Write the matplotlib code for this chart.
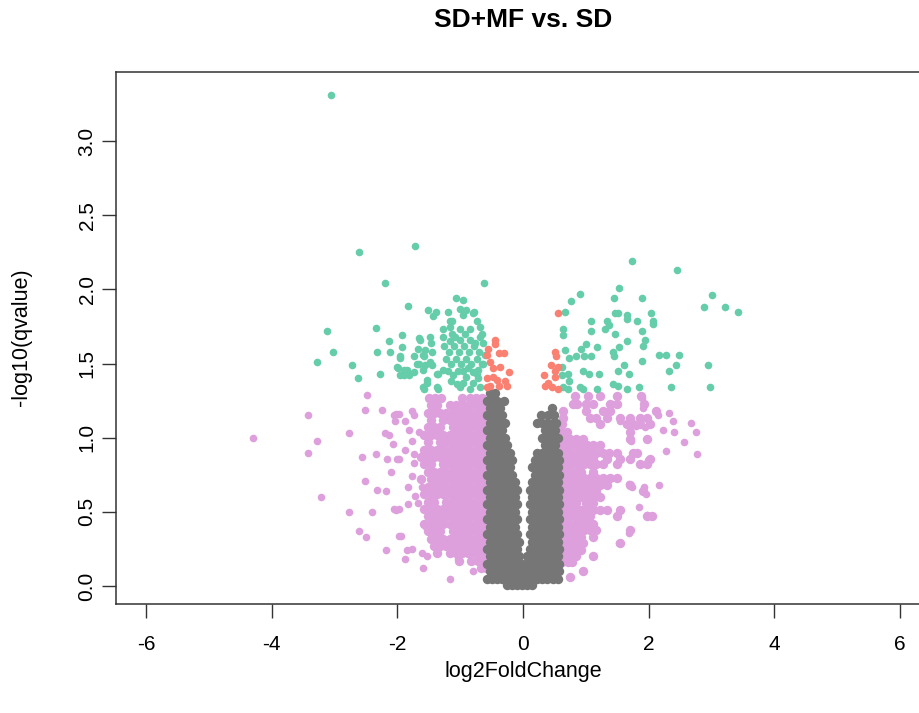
import matplotlib
matplotlib.use('Agg')
import matplotlib.pyplot as plt

plt.rcParams['font.family'] = ['Liberation Sans', 'DejaVu Sans']
plt.rcParams['axes.unicode_minus'] = False

# 1. Values (log2FoldChange, -log10(qvalue))
# significant, |log2FC| large  -> green
green_pts = [
    (-3.05, 3.31), (-2.61, 2.25), (-1.72, 2.29), (-2.19, 2.04), (-0.62, 2.04), (-1.83, 1.89),
    (-1.07, 1.94), (-0.96, 1.93), (-1.52, 1.86), (-1.39, 1.85), (-1.43, 1.82),
    (-1.19, 1.85), (-1.00, 1.87), (-0.90, 1.86), (-0.78, 1.85), (-0.95, 1.83),
    (-3.12, 1.72), (-3.03, 1.58), (-3.28, 1.51), (-2.34, 1.74), (-2.72, 1.49), (-2.63, 1.40),
    (-2.27, 1.43), (-2.32, 1.58), (-2.14, 1.65), (-2.11, 1.58), (-1.92, 1.69), (-1.92, 1.61),
    (-1.96, 1.55), (-1.65, 1.67), (-1.74, 1.55), (-1.67, 1.60), (-1.99, 1.47), (-1.90, 1.46),
    (-1.90, 1.42), (-1.82, 1.42), (-1.74, 1.44), (-1.56, 1.59), (-1.45, 1.58), (-1.57, 1.55),
    (-1.65, 1.50), (-1.56, 1.49), (-1.45, 1.49), (-1.48, 1.68), (-1.46, 1.64), (-1.27, 1.73),
    (-1.16, 1.79), (-1.27, 1.68), (-1.16, 1.65), (-1.00, 1.73), (-0.84, 1.73), (-0.74, 1.79),
    (-0.68, 1.75), (-0.66, 1.70), (-1.35, 1.43), (-1.27, 1.46), (-1.37, 1.34), (-1.53, 1.37),
    (-1.58, 1.33), (-0.95, 1.37), (-0.84, 1.33), (-0.68, 1.34), (-0.90, 1.41), (-0.74, 1.43),
    (-0.71, 1.46), (-0.60, 1.56), (-0.66, 1.50), (-1.13, 1.79), (-1.16, 1.75), (-1.13, 1.70),
    (-0.79, 1.84), (-0.63, 1.64), (-0.68, 1.68), (-1.64, 1.66), (-1.96, 1.54), (-1.59, 1.56),
    (-1.69, 1.50), (-1.48, 1.51), (-2.01, 1.48), (-1.85, 1.46), (-1.59, 1.46), (-1.37, 1.43),
    (-1.53, 1.39), (-1.59, 1.34), (-1.35, 1.33), (-1.96, 1.42), (-1.00, 1.34), (-0.63, 1.50),
    (-1.25, 1.62), (-1.18, 1.58), (-1.10, 1.62), (-1.02, 1.58), (-0.94, 1.62), (-0.86, 1.58),
    (-0.78, 1.62), (-0.70, 1.58), (-1.22, 1.53), (-1.14, 1.50), (-1.06, 1.53), (-0.98, 1.50),
    (-0.90, 1.53), (-0.82, 1.50), (-0.74, 1.53), (-1.20, 1.45), (-1.12, 1.42), (-1.04, 1.45),
    (-0.96, 1.45), (-0.88, 1.47), (-0.80, 1.44), (-0.72, 1.40), (-1.08, 1.68), (-1.00, 1.66),
    (-0.92, 1.70), (-0.84, 1.66), (-0.76, 1.64), (-1.15, 1.38), (-1.05, 1.36), (-0.80, 1.37),
    (1.74, 2.19), (2.45, 2.13), (0.91, 1.97), (0.77, 1.92), (1.53, 2.01), (1.45, 1.94),
    (1.89, 1.94), (0.67, 1.85), (3.01, 1.96), (2.88, 1.88), (3.21, 1.88), (3.43, 1.85),
    (1.09, 1.79), (1.34, 1.79), (1.37, 1.76), (1.31, 1.73), (1.09, 1.72), (1.47, 1.84),
    (1.52, 1.84), (1.66, 1.83), (1.65, 1.80), (1.81, 1.79), (2.03, 1.84), (2.07, 1.79),
    (2.07, 1.77), (0.64, 1.73), (0.64, 1.69), (1.47, 1.70), (1.89, 1.72), (1.94, 1.66),
    (1.91, 1.62), (1.65, 1.65), (1.53, 1.61), (1.18, 1.61), (1.00, 1.63), (0.93, 1.60),
    (0.67, 1.59), (0.74, 1.54), (0.85, 1.55), (0.97, 1.55), (1.09, 1.55), (1.43, 1.58),
    (1.45, 1.55), (2.16, 1.56), (2.27, 1.56), (2.48, 1.56), (1.89, 1.52), (1.61, 1.49),
    (1.52, 1.45), (1.69, 1.43), (1.21, 1.43), (0.96, 1.45), (1.05, 1.43), (2.43, 1.49),
    (2.32, 1.45), (2.95, 1.49), (0.62, 1.48), (0.62, 1.42), (0.72, 1.43), (0.74, 1.38),
    (0.64, 1.34), (0.72, 1.33), (0.91, 1.34), (0.96, 1.33), (1.18, 1.33), (1.43, 1.36),
    (1.52, 1.35), (1.65, 1.33), (1.85, 1.34), (2.36, 1.34), (2.98, 1.34),
]

# significant, |log2FC| small -> salmon
red_pts = [
    (-0.45, 1.66), (-0.45, 1.63), (-0.55, 1.60), (-0.58, 1.56), (-0.39, 1.57), (-0.31, 1.57),
    (-0.52, 1.51), (-0.47, 1.47), (-0.37, 1.48), (-0.23, 1.44), (-0.58, 1.40), (-0.47, 1.41),
    (-0.42, 1.39), (-0.29, 1.38), (-0.52, 1.35), (-0.39, 1.35), (-0.26, 1.35), (-0.58, 1.34),
    (0.55, 1.84), (0.51, 1.58), (0.53, 1.55), (0.45, 1.49), (0.56, 1.48), (0.51, 1.45),
    (0.33, 1.42), (0.51, 1.41), (0.40, 1.37), (0.35, 1.35), (0.46, 1.34), (0.56, 1.33),
]

# not significant, |log2FC| large -> plum (scattered outer points)
pink_pts = [
    (-4.30, 1.00), (-3.43, 1.15), (-3.28, 0.98), (-3.43, 0.90), (-3.21, 0.60), (-2.77, 1.03),
    (-2.48, 1.29), (-2.52, 1.19), (-2.25, 1.19), (-2.56, 0.87), (-2.34, 0.89), (-2.52, 0.71),
    (-2.33, 0.65), (-2.18, 0.64), (-2.77, 0.50), (-2.41, 0.50), (-2.61, 0.37), (-2.50, 0.33),
    (-2.18, 0.24), (-2.19, 1.03), (-2.14, 1.02), (-2.07, 0.96), (-2.10, 0.77), (-2.06, 1.15),
    (-2.03, 1.11), (-2.17, 0.86), (-2.01, 0.86), (-2.06, 0.52), (-1.97, 0.34), (-2.02, 1.16),
    (-1.98, 1.16), (-1.88, 1.11), (-1.77, 1.18), (-1.74, 1.15), (-1.82, 1.05), (-1.77, 0.98),
    (-1.65, 1.04), (-1.88, 0.92), (-1.74, 0.89), (-1.74, 0.83), (-1.98, 0.86), (-1.77, 0.74),
    (-1.83, 0.67), (-1.61, 0.67), (-1.72, 0.61), (-1.83, 0.55), (-1.67, 0.56), (-2.02, 0.51),
    (-1.98, 0.52), (-1.94, 0.34), (-1.88, 0.18), (-1.85, 0.24), (-1.77, 0.25), (-1.61, 0.22),
    (-1.53, 0.20), (-1.60, 0.12), (-1.16, 0.05), (-1.54, 0.40), (-1.03, 0.18), (-0.79, 0.10),
    (2.15, 1.15), (2.32, 1.17), (2.39, 1.11), (2.68, 1.10), (2.75, 1.04), (2.56, 0.97),
    (2.77, 0.89), (2.27, 0.91), (2.41, 1.04), (2.23, 1.05), (2.16, 0.68), (1.98, 0.99),
    (1.99, 0.85), (1.85, 0.53), (1.97, 0.48), (2.03, 0.47), (1.69, 0.36), (1.53, 0.29),
    (1.92, 0.67), (1.96, 0.62), (1.69, 0.69), (1.74, 0.67), (1.89, 1.27), (1.91, 1.20),
    (1.46, 1.23), (1.39, 1.19), (1.72, 0.98), (1.54, 1.11), (1.64, 1.09), (1.80, 1.08),
    (1.95, 1.07),
]

# plum dense clouds, one row per -log10(qvalue) level: (y, [log2FC, ...])
pink_left_rows = [
    (1.27, [-1.50, -1.40, -1.30, -0.97, -0.85, -0.75, -0.65]),
    (1.22, [-1.47, -1.37, -1.17, -1.07, -0.97, -0.87, -0.77, -0.67, -0.60]),
    (1.17, [-1.52, -1.42, -1.32, -1.22, -1.12, -1.02, -0.92, -0.82, -0.72, -0.62]),
    (1.12, [-1.47, -1.27, -1.17, -1.07, -0.97, -0.87, -0.77, -0.67, -0.59]),
    (1.07, [-1.52, -1.42, -1.32, -1.12, -1.02, -0.92, -0.82, -0.72, -0.62]),
    (1.02, [-1.57, -1.47, -1.37, -1.27, -1.17, -1.07, -0.97, -0.87, -0.77, -0.67, -0.59]),
    (0.97, [-1.52, -1.32, -1.22, -1.12, -1.02, -0.92, -0.82, -0.72, -0.62]),
    (0.92, [-1.57, -1.47, -1.37, -1.27, -1.17, -1.07, -0.97, -0.87, -0.77, -0.67, -0.59]),
    (0.87, [-1.62, -1.52, -1.42, -1.32, -1.22, -1.12, -1.02, -0.92, -0.82, -0.72, -0.62]),
    (0.82, [-1.57, -1.47, -1.27, -1.17, -1.07, -0.97, -0.87, -0.77, -0.67, -0.59]),
    (0.77, [-1.52, -1.42, -1.32, -1.22, -1.12, -1.02, -0.92, -0.82, -0.72, -0.62]),
    (0.72, [-1.62, -1.47, -1.37, -1.27, -1.17, -1.07, -0.97, -0.87, -0.77, -0.67, -0.59]),
    (0.67, [-1.52, -1.42, -1.32, -1.22, -1.12, -1.02, -0.92, -0.82, -0.72, -0.62]),
    (0.62, [-1.57, -1.47, -1.37, -1.27, -1.17, -1.07, -0.97, -0.87, -0.77, -0.67, -0.59]),
    (0.57, [-1.52, -1.42, -1.22, -1.12, -1.02, -0.92, -0.82, -0.72, -0.62]),
    (0.52, [-1.57, -1.47, -1.37, -1.27, -1.17, -1.07, -0.97, -0.87, -0.77, -0.67, -0.59]),
    (0.47, [-1.52, -1.42, -1.32, -1.22, -1.12, -1.02, -0.92, -0.82, -0.72, -0.62]),
    (0.42, [-1.57, -1.47, -1.37, -1.27, -1.17, -1.07, -0.97, -0.87, -0.77, -0.67, -0.59]),
    (0.37, [-1.52, -1.42, -1.32, -1.12, -1.02, -0.92, -0.82, -0.72, -0.62]),
    (0.32, [-1.47, -1.37, -1.27, -1.17, -1.07, -0.97, -0.87, -0.77, -0.67, -0.59]),
    (0.27, [-1.42, -1.32, -1.22, -1.12, -1.02, -0.92, -0.82, -0.72, -0.62]),
    (0.22, [-1.37, -1.17, -1.07, -0.97, -0.87, -0.77, -0.67, -0.59]),
    (0.17, [-1.02, -0.82, -0.72, -0.62]),
    (0.12, [-0.67, -0.59]),
]

pink_right_rows = [
    (1.28, [0.82, 1.04, 1.22, 1.49, 1.88]),
    (1.23, [0.80, 0.86, 1.00, 1.12, 1.38, 1.49, 1.92]),
    (1.18, [0.64, 1.01, 1.28, 1.38, 2.12]),
    (1.13, [0.64, 1.06, 1.17, 1.33, 1.54, 1.70, 1.86, 1.97]),
    (1.09, [0.62, 1.22, 1.65, 1.75, 1.86, 2.02]),
    (1.04, [0.62, 0.70, 1.70]),
    (0.99, [0.64, 0.75, 0.85, 0.96, 1.70, 1.97]),
    (0.95, [0.62, 0.72, 0.82, 0.92, 1.02, 1.12, 1.22]),
    (0.90, [0.67, 0.77, 0.87, 0.97, 1.07, 1.17, 1.27, 1.37, 1.49, 1.75, 1.81]),
    (0.86, [0.62, 0.72, 0.82, 0.92, 1.02, 1.12, 1.33, 1.54, 1.70, 2.02]),
    (0.82, [0.67, 0.77, 0.87, 0.97, 1.07, 1.17, 1.28, 1.49, 1.86, 1.97]),
    (0.77, [0.62, 0.72, 0.82, 0.92, 1.12]),
    (0.73, [0.67, 0.77, 0.87, 0.97, 1.07, 1.17, 1.27, 1.38, 1.49]),
    (0.68, [0.62, 0.72, 0.82, 0.92, 1.02, 1.12, 1.22, 1.33, 1.70]),
    (0.64, [0.67, 0.77, 0.87, 0.97, 1.07, 1.17, 1.91]),
    (0.60, [0.62, 0.72, 0.82, 0.92, 1.02, 1.12, 1.22]),
    (0.56, [0.67, 0.77, 0.85, 1.01, 1.12]),
    (0.51, [0.62, 0.72, 0.82, 0.92, 1.02, 1.12, 1.22, 1.33, 1.54]),
    (0.47, [0.67, 0.77, 0.87, 0.97, 1.07, 1.49, 1.97, 2.05]),
    (0.42, [0.62, 0.72, 0.82, 0.92, 1.02, 1.12]),
    (0.38, [0.67, 0.77, 0.87, 0.97, 1.07, 1.17, 1.70]),
    (0.33, [0.62, 0.72, 0.82, 0.92, 1.12]),
    (0.29, [0.67, 0.77, 0.87, 0.96, 1.54]),
    (0.24, [0.62, 0.72, 0.82, 0.92]),
    (0.20, [0.67, 0.77, 0.85, 1.12]),
    (0.16, [0.62, 0.72, 0.78]),
    (0.10, [0.96]),
    (0.06, [0.75]),
]

# not significant, |log2FC| small -> grey (the "V")
grey_rows = [
    (1.30, [-0.53, -0.45]),
    (1.25, [-0.57, -0.49, -0.41, -0.30]),
    (1.20, [-0.53, -0.45, -0.37, 0.46]),
    (1.15, [-0.57, -0.49, -0.41, -0.33, 0.28, 0.40, 0.50]),
    (1.10, [-0.53, -0.45, -0.37, -0.29, 0.23, 0.31, 0.39, 0.47, 0.53]),
    (1.05, [-0.57, -0.49, -0.41, -0.33, 0.35, 0.43, 0.51]),
    (1.00, [-0.53, -0.45, -0.37, -0.29, 0.31, 0.39, 0.47, 0.55]),
    (0.95, [-0.57, -0.49, -0.41, -0.33, -0.25, 0.35, 0.43, 0.51]),
    (0.90, [-0.53, -0.45, -0.37, -0.29, -0.21, 0.23, 0.31, 0.39, 0.47, 0.55]),
    (0.85, [-0.57, -0.49, -0.41, -0.33, -0.25, -0.17, 0.19, 0.27, 0.35, 0.43, 0.51, 0.58]),
    (0.80, [-0.53, -0.45, -0.37, -0.29, -0.21, 0.15, 0.23, 0.31, 0.39, 0.47, 0.55]),
    (0.75, [-0.57, -0.49, -0.41, -0.33, -0.25, -0.17, 0.19, 0.27, 0.35, 0.43, 0.51, 0.58]),
    (0.70, [-0.53, -0.45, -0.37, -0.29, -0.21, -0.13, 0.15, 0.23, 0.31, 0.39, 0.47, 0.55]),
    (0.65, [-0.57, -0.49, -0.41, -0.33, -0.25, -0.17, -0.09, 0.11, 0.19, 0.27, 0.35, 0.43, 0.51, 0.58]),
    (0.60, [-0.53, -0.45, -0.37, -0.29, -0.21, -0.13, 0.15, 0.23, 0.31, 0.39, 0.47, 0.55]),
    (0.55, [-0.57, -0.49, -0.41, -0.33, -0.25, -0.17, -0.09, 0.11, 0.19, 0.27, 0.35, 0.43, 0.51, 0.58]),
    (0.50, [-0.53, -0.45, -0.37, -0.29, -0.21, -0.13, 0.15, 0.23, 0.31, 0.39, 0.47, 0.55]),
    (0.45, [-0.57, -0.49, -0.41, -0.33, -0.25, -0.17, -0.09, 0.11, 0.19, 0.27, 0.35, 0.43, 0.51, 0.58]),
    (0.40, [-0.53, -0.45, -0.37, -0.29, -0.21, -0.13, 0.15, 0.23, 0.31, 0.39, 0.47, 0.55]),
    (0.35, [-0.57, -0.49, -0.41, -0.33, -0.25, -0.17, -0.09, 0.11, 0.19, 0.27, 0.35, 0.43, 0.51, 0.58]),
    (0.30, [-0.53, -0.45, -0.37, -0.29, -0.21, -0.13, -0.06, 0.15, 0.23, 0.31, 0.39, 0.47, 0.55]),
    (0.25, [-0.57, -0.49, -0.41, -0.33, -0.25, -0.17, -0.09, 0.11, 0.19, 0.27, 0.35, 0.43, 0.51, 0.58]),
    (0.20, [-0.53, -0.45, -0.37, -0.29, -0.21, -0.13, -0.06, 0.07, 0.15, 0.23, 0.31, 0.39, 0.47, 0.55]),
    (0.15, [-0.57, -0.49, -0.41, -0.33, -0.25, -0.17, -0.09, -0.02, 0.05, 0.11, 0.19, 0.27, 0.35, 0.43, 0.51, 0.58]),
    (0.10, [-0.53, -0.45, -0.37, -0.29, -0.21, -0.13, -0.05, 0.03, 0.11, 0.19, 0.27, 0.35, 0.43, 0.51, 0.58]),
    (0.05, [-0.57, -0.49, -0.41, -0.33, -0.25, -0.17, -0.09, -0.01, 0.07, 0.15, 0.23, 0.31, 0.39, 0.47, 0.55]),
    (0.01, [-0.25, -0.17, -0.09, -0.01, 0.07, 0.15]),
]

x_ticks = [-6, -4, -2, 0, 2, 4, 6]
y_ticks = [0.0, 0.5, 1.0, 1.5, 2.0, 2.5, 3.0]
y_tick_labels = ['0.0', '0.5', '1.0', '1.5', '2.0', '2.5', '3.0']


def unzip(pts):
    return [p[0] for p in pts], [p[1] for p in pts]


def flatten_rows(rows):
    xs, ys = [], []
    for y, row in rows:
        xs += row
        ys += [y] * len(row)
    return xs, ys


# 2. Build the figure (R base-graphics look, right side cropped like the original)
fig = plt.figure(figsize=(9.2, 7.13), dpi=100)
ax = fig.add_axes([116 / 920, 1 - 604 / 713, 814 / 920, 532 / 713])

dot = dict(s=30, linewidths=0)     # single points
blob = dict(s=46, linewidths=0)    # dense clouds, so neighbours overlap like the original
px, py = unzip(pink_pts)
ax.scatter(px, py, color='#DDA0DD', **dot)
for rows in (pink_left_rows, pink_right_rows):
    rx, ry = flatten_rows(rows)
    ax.scatter(rx, ry, color='#DDA0DD', **blob)
gx, gy = flatten_rows(grey_rows)
ax.scatter(gx, gy, color='#767676', **blob)
gx, gy = unzip(green_pts)
ax.scatter(gx, gy, color='#66CDAA', **dot)
rx, ry = unzip(red_pts)
ax.scatter(rx, ry, color='#FA8072', **dot)

# 3. Axes, ticks and labels
ax.set_xlim(-6.48, 6.48)
ax.set_ylim(-0.121, 3.466)
ax.set_xticks(x_ticks)
ax.set_xticklabels([str(t) for t in x_ticks])
ax.set_yticks(y_ticks)
ax.set_yticklabels(y_tick_labels, rotation=90, va='center')
ax.tick_params(axis='both', length=10, width=1, color='#333333', labelsize=15)
ax.tick_params(axis='x', pad=12)
ax.tick_params(axis='y', pad=4)
for sp in ax.spines.values():
    sp.set_linewidth(1.1)
    sp.set_color('#333333')

fig.text(523 / 920, 1 - 20 / 713, 'SD+MF vs. SD', ha='center', va='center',
         fontsize=19, fontweight='bold')
fig.text(523 / 920, 1 - 672 / 713, 'log2FoldChange', ha='center', va='center', fontsize=15.5)
fig.text(22 / 920, 1 - 337 / 713, '-log10(qvalue)', ha='center', va='center',
         rotation=90, fontsize=15.5)

fig.savefig('out.png', dpi=100)
